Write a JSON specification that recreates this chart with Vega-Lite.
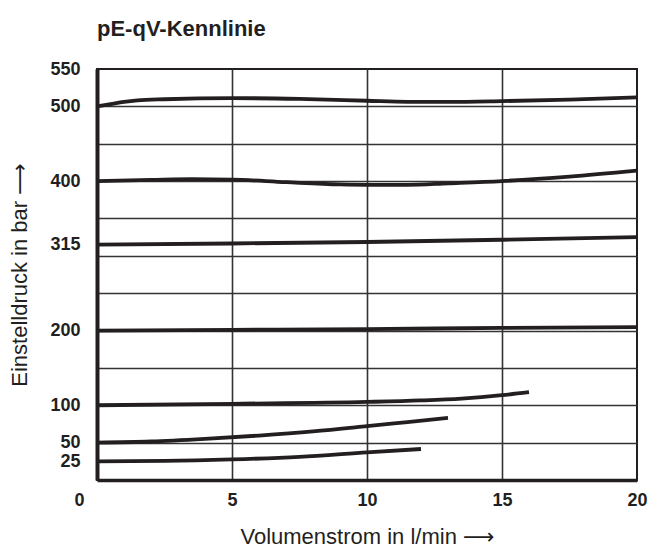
{
  "$schema": "https://vega.github.io/schema/vega-lite/v6.json",
  "autosize": "none",
  "width": 540,
  "height": 411,
  "padding": {"left": 97, "top": 69, "right": 13, "bottom": 72},
  "background": "white",
  "title": {
    "text": "pE-qV-Kennlinie",
    "anchor": "start",
    "frame": "group",
    "font": "Liberation Sans",
    "fontWeight": "bold",
    "fontSize": 22,
    "color": "#231f20",
    "baseline": "alphabetic",
    "offset": 2
  },
  "config": {
    "view": {"stroke": "#231f20", "strokeWidth": 2},
    "axis": {
      "labelFont": "Liberation Sans",
      "labelFontWeight": "bold",
      "labelFontSize": 18,
      "labelColor": "#231f20",
      "labelOverlap": false,
      "titleFont": "Liberation Sans, DejaVu Sans",
      "titleFontWeight": "normal",
      "titleFontSize": 22,
      "titleColor": "#231f20",
      "gridColor": "#333333",
      "gridWidth": 1.6,
      "gridOpacity": 1,
      "ticks": false,
      "domainColor": "#231f20"
    }
  },
  "data": {
    "values": [
      {"c": "500", "q": 0, "p": 500}, {"c": "500", "q": 0.5, "p": 503}, {"c": "500", "q": 1, "p": 506}, {"c": "500", "q": 1.5, "p": 508}, {"c": "500", "q": 2.5, "p": 509.5}, {"c": "500", "q": 5, "p": 511}, {"c": "500", "q": 7.5, "p": 510}, {"c": "500", "q": 10, "p": 507.5}, {"c": "500", "q": 11.5, "p": 506}, {"c": "500", "q": 13, "p": 506}, {"c": "500", "q": 15, "p": 507}, {"c": "500", "q": 17.5, "p": 509}, {"c": "500", "q": 20, "p": 512},
      {"c": "400", "q": 0, "p": 400}, {"c": "400", "q": 2, "p": 401.5}, {"c": "400", "q": 3.5, "p": 402.5}, {"c": "400", "q": 5, "p": 402}, {"c": "400", "q": 7, "p": 398.5}, {"c": "400", "q": 9, "p": 395.5}, {"c": "400", "q": 10, "p": 395}, {"c": "400", "q": 11.5, "p": 395}, {"c": "400", "q": 13, "p": 397}, {"c": "400", "q": 15, "p": 400}, {"c": "400", "q": 17.5, "p": 406}, {"c": "400", "q": 20, "p": 414},
      {"c": "315", "q": 0, "p": 315}, {"c": "315", "q": 5, "p": 316.5}, {"c": "315", "q": 10, "p": 318.5}, {"c": "315", "q": 15, "p": 321.5}, {"c": "315", "q": 20, "p": 325},
      {"c": "200", "q": 0, "p": 200}, {"c": "200", "q": 5, "p": 201}, {"c": "200", "q": 10, "p": 202}, {"c": "200", "q": 15, "p": 203.5}, {"c": "200", "q": 20, "p": 204.5},
      {"c": "100", "q": 0, "p": 100}, {"c": "100", "q": 5, "p": 102}, {"c": "100", "q": 10, "p": 104.5}, {"c": "100", "q": 12, "p": 106.5}, {"c": "100", "q": 13.5, "p": 109}, {"c": "100", "q": 15, "p": 113.5}, {"c": "100", "q": 16, "p": 117.5},
      {"c": "50", "q": 0, "p": 50}, {"c": "50", "q": 2, "p": 51.5}, {"c": "50", "q": 4, "p": 55}, {"c": "50", "q": 6, "p": 59.5}, {"c": "50", "q": 8, "p": 65}, {"c": "50", "q": 10, "p": 72}, {"c": "50", "q": 11.5, "p": 77.5}, {"c": "50", "q": 13, "p": 83},
      {"c": "25", "q": 0, "p": 25}, {"c": "25", "q": 2.5, "p": 25.5}, {"c": "25", "q": 5, "p": 27.5}, {"c": "25", "q": 7.5, "p": 31}, {"c": "25", "q": 10, "p": 37}, {"c": "25", "q": 12, "p": 41.5}
    ]
  },
  "mark": {"type": "line", "interpolate": "monotone", "color": "#231f20", "strokeWidth": 3.8, "strokeCap": "butt"},
  "encoding": {
    "x": {
      "field": "q",
      "type": "quantitative",
      "scale": {"domain": [0, 20], "nice": false},
      "axis": {
        "title": "Volumenstrom in l/min \u27f6",
        "values": [0, 5, 10, 15, 20],
        "domainWidth": 3.5,
        "labelPadding": 11,
        "titlePadding": 17,
        "labelOffset": {"condition": {"test": "datum.value == 0", "value": -18}, "value": 0},
        "gridOpacity": {"condition": {"test": "datum.value == 0 || datum.value == 20", "value": 0}, "value": 1},
        "labelFlush": false
      }
    },
    "y": {
      "field": "p",
      "type": "quantitative",
      "scale": {"domain": [0, 550], "nice": false},
      "axis": {
        "title": "Einstelldruck in bar \u27f6",
        "values": [25, 50, 100, 150, 200, 250, 300, 315, 350, 400, 450, 500, 550],
        "labelExpr": "indexof([25, 50, 100, 200, 315, 400, 500, 550], datum.value) >= 0 ? datum.label : ''",
        "domainWidth": 4,
        "labelPadding": 17,
        "titlePadding": 18,
        "gridOpacity": {"condition": {"test": "datum.value == 25 || datum.value == 315 || datum.value == 550", "value": 0}, "value": 1},
        "labelFlush": false
      }
    },
    "detail": {"field": "c"}
  }
}
